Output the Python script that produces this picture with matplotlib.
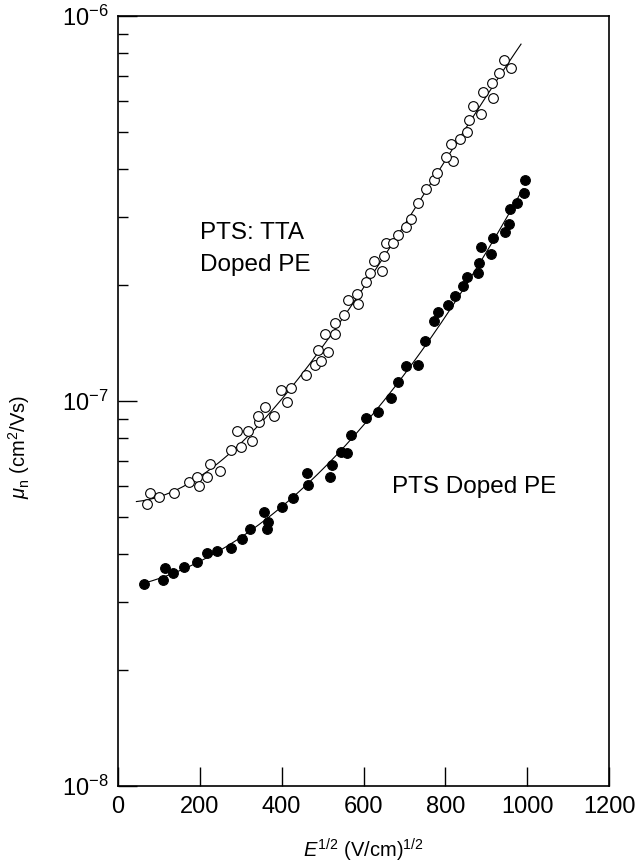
import numpy as np
import matplotlib
matplotlib.use("Agg")
import matplotlib.pyplot as plt
from matplotlib.ticker import LogLocator, NullFormatter, FixedLocator

plt.rcParams['font.family'] = ['Liberation Sans', 'DejaVu Sans']
plt.rcParams['mathtext.fontset'] = 'custom'
plt.rcParams['mathtext.rm'] = 'Liberation Sans'
plt.rcParams['mathtext.it'] = 'Liberation Sans:italic'
plt.rcParams['mathtext.bf'] = 'Liberation Sans:bold'

# PTS:TTA doped PE (open circles): E^1/2 in (V/cm)^1/2, mobility in cm2/Vs
tta_x = [71, 79, 99, 137, 174, 192, 199, 218, 226, 250, 277, 301, 328, 318, 291,
         344, 342, 360, 382, 414, 398, 424, 460, 482, 497, 489, 514, 506, 530, 530,
         553, 587, 561, 585, 606, 617, 644, 626, 649, 656, 672, 685, 704, 717,
         733, 753, 772, 780, 819, 802, 813, 836, 854, 859, 886, 867, 916, 891,
         915, 932, 960, 943]
tta_mu = [5.40e-8, 5.78e-8, 5.64e-8, 5.77e-8, 6.17e-8, 6.34e-8, 6.03e-8, 6.34e-8,
          6.87e-8, 6.59e-8, 7.48e-8, 7.60e-8, 7.89e-8, 8.37e-8, 8.35e-8, 8.81e-8,
          9.12e-8, 9.65e-8, 9.12e-8, 9.96e-8, 1.07e-7, 1.08e-7, 1.17e-7, 1.24e-7,
          1.27e-7, 1.36e-7, 1.34e-7, 1.49e-7, 1.49e-7, 1.59e-7, 1.67e-7, 1.79e-7,
          1.83e-7, 1.90e-7, 2.04e-7, 2.15e-7, 2.17e-7, 2.31e-7, 2.38e-7, 2.58e-7,
          2.58e-7, 2.70e-7, 2.83e-7, 2.97e-7, 3.27e-7, 3.55e-7, 3.75e-7, 3.91e-7,
          4.21e-7, 4.30e-7, 4.65e-7, 4.79e-7, 4.99e-7, 5.36e-7, 5.56e-7, 5.85e-7,
          6.14e-7, 6.34e-7, 6.71e-7, 7.11e-7, 7.31e-7, 7.70e-7]

# PTS doped PE (filled circles)
pts_x = [64, 110, 115, 135, 162, 194, 217, 242, 276, 303, 323, 358, 367, 364,
         401, 428, 465, 462, 517, 524, 546, 560, 569, 606, 636, 668, 685, 704,
         733, 750, 772, 783, 806, 824, 842, 854, 879, 883, 911, 888, 917, 947,
         956, 958, 975, 993, 995]
pts_mu = [3.34e-8, 3.43e-8, 3.68e-8, 3.57e-8, 3.71e-8, 3.81e-8, 4.03e-8, 4.09e-8,
          4.14e-8, 4.37e-8, 4.64e-8, 5.15e-8, 4.85e-8, 4.64e-8, 5.30e-8, 5.59e-8,
          6.05e-8, 6.50e-8, 6.34e-8, 6.82e-8, 7.38e-8, 7.31e-8, 8.16e-8, 9.01e-8,
          9.36e-8, 1.02e-7, 1.12e-7, 1.23e-7, 1.24e-7, 1.43e-7, 1.61e-7, 1.70e-7,
          1.78e-7, 1.87e-7, 1.99e-7, 2.10e-7, 2.15e-7, 2.28e-7, 2.41e-7, 2.51e-7,
          2.65e-7, 2.74e-7, 2.88e-7, 3.15e-7, 3.27e-7, 3.46e-7, 3.75e-7]

tta_fit_range = (45, 985)
pts_fit_range = (64, 990)

fig = plt.figure(figsize=(6.42, 8.65), dpi=100)
ax = fig.add_axes([0.1838, 0.0913, 0.7648, 0.8902])


def fit_curve(x, y, lo, hi, deg):
    # polynomial fit of log10(mu) against E^1/2
    c = np.polyfit(x, np.log10(y), deg)
    xs = np.linspace(lo, hi, 200)
    return xs, 10 ** np.polyval(c, xs)


xs, ys = fit_curve(tta_x, tta_mu, *tta_fit_range, 3)
ax.plot(xs, ys, color='black', lw=0.8, zorder=1)
xs, ys = fit_curve(pts_x, pts_mu, *pts_fit_range, 2)
ax.plot(xs, ys, color='black', lw=0.8, zorder=1)

ax.plot(tta_x, tta_mu, 'o', ms=7, mfc='white', mec='black', mew=0.8, zorder=2)
ax.plot(pts_x, pts_mu, 'o', ms=7, mfc='black', mec='black', mew=0.8, zorder=2)

ax.set_yscale('log')
ax.set_xlim(0, 1200)
ax.set_ylim(1e-8, 1e-6)

ax.xaxis.set_major_locator(FixedLocator(np.arange(0, 1201, 200)))
ax.yaxis.set_major_locator(FixedLocator([1e-8, 1e-7, 1e-6]))
ax.yaxis.set_minor_locator(LogLocator(base=10, subs=np.arange(2, 10)))
ax.yaxis.set_minor_formatter(NullFormatter())
ax.set_yticklabels(['$10^{-8}$', '$10^{-7}$', '$10^{-6}$'])

ax.tick_params(axis='both', which='major', direction='in', length=14, width=1,
               labelsize=17, pad=7, top=False, right=False)
ax.tick_params(axis='y', which='minor', direction='in', length=7, width=1,
               right=False)
for s in ax.spines.values():
    s.set_linewidth(1.2)

ax.text(200, 2.73e-7, 'PTS: TTA', fontsize=17.5, va='center', ha='left')
ax.text(200, 2.26e-7, 'Doped PE', fontsize=17.5, va='center', ha='left')
ax.text(669, 5.97e-8, 'PTS Doped PE', fontsize=17.5, va='center', ha='left')

ax.set_xlabel('$E^{1/2}$ (V/cm)$^{1/2}$', fontsize=14.5, labelpad=14)
fig.text(0.03, 1 - 447 / 865, r'$\mu_{\mathrm{n}}$ (cm$^2$/Vs)', fontsize=14.5,
         rotation=90, ha='center', va='center')

fig.savefig('out.png', dpi=100)
